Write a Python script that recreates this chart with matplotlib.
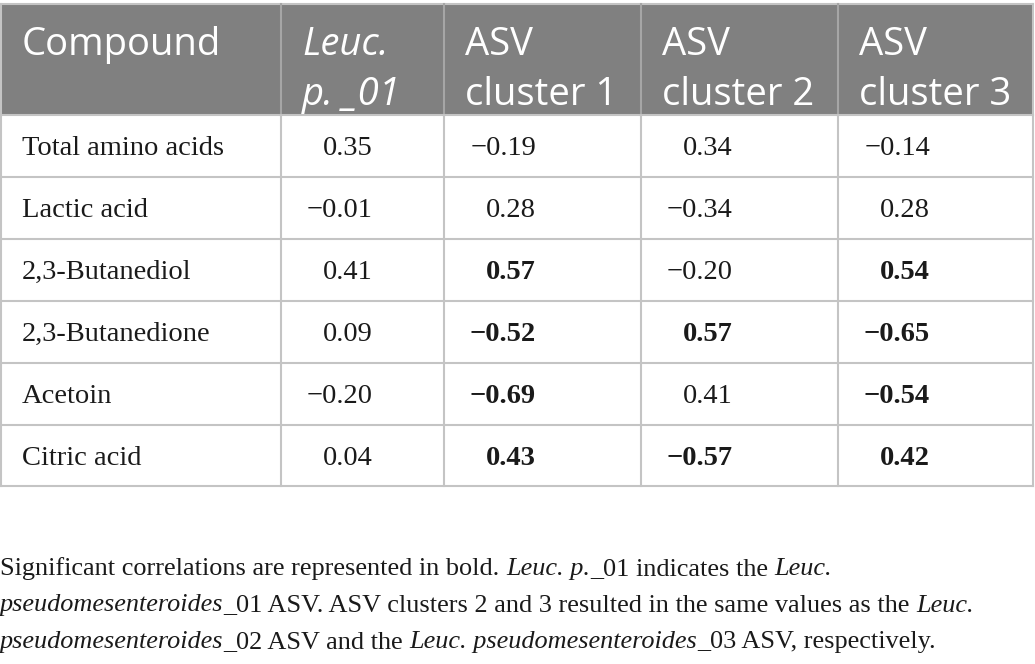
import matplotlib.pyplot as plt
from matplotlib.patches import Rectangle

compounds = ["Total amino acids", "Lactic acid", "2,3-Butanediol",
             "2,3-Butanedione", "Acetoin", "Citric acid"]
values = [
    [0.35, -0.19, 0.34, -0.14],
    [-0.01, 0.28, -0.34, 0.28],
    [0.41, 0.57, -0.20, 0.54],
    [0.09, -0.52, 0.57, -0.65],
    [-0.20, -0.69, 0.41, -0.54],
    [0.04, 0.43, -0.57, 0.42],
]
significant = [
    [False, False, False, False],
    [False, False, False, False],
    [False, True, False, True],
    [False, True, True, True],
    [False, True, False, True],
    [False, True, True, True],
]
# header: (line1, line2, italic)
headers = [("Compound", "", False), ("Leuc.", "p. _01", True),
           ("ASV", "cluster 1", False), ("ASV", "cluster 2", False),
           ("ASV", "cluster 3", False)]
footnote = [
    [("Significant correlations are represented in bold. ", "normal"),
     ("Leuc. p.", "italic"), ("_01 indicates the ", "normal"), ("Leuc.", "italic")],
    [("pseudomesenteroides", "italic"),
     ("_01 ASV. ASV clusters 2 and 3 resulted in the same values as the ", "normal"),
     ("Leuc.", "italic")],
    [("pseudomesenteroides", "italic"), ("_02 ASV and the ", "normal"),
     ("Leuc. pseudomesenteroides", "italic"), ("_03 ASV, respectively.", "normal")],
]

W, H = 1035, 664
fig = plt.figure(figsize=(W / 100, H / 100), dpi=100)
ax = fig.add_axes([0, 0, 1, 1])
ax.set_xlim(0, W)
ax.set_ylim(H, 0)
ax.axis("off")

col_x = [1, 281, 444, 641, 838, 1033]
top, head_bot = 4, 115
row_h = 61.9
row_y = [head_bot + i * row_h for i in range(len(compounds) + 1)]
grid = "#c4c4c4"
serif = "Liberation Serif"
fs = 20.5
ink = "#1a1a1a"

ax.add_patch(Rectangle((col_x[0], top), col_x[-1] - col_x[0], head_bot - top,
                       facecolor="#808080", edgecolor="none"))
ax.plot([col_x[0], col_x[-1]], [top, top], color=grid, lw=1.5)
for y in row_y:
    ax.plot([col_x[0], col_x[-1]], [y, y], color=grid, lw=1.5)
for x in col_x:
    edge = x in (col_x[0], col_x[-1])
    ax.plot([x, x], [top, head_bot], color=grid if edge else "#a6a6a6", lw=1.5, zorder=3)
    ax.plot([x, x], [head_bot, row_y[-1]], color=grid, lw=1.5, zorder=3)

for j, (l1, l2, it) in enumerate(headers):
    style = "italic" if it else "normal"
    ax.text(col_x[j] + 21, 55, l1, color="white", fontsize=27.5, family="Open Sans",
            style=style, va="baseline", ha="left")
    if l2:
        ax.text(col_x[j] + 21, 105, l2, color="white", fontsize=27.5, family="Open Sans",
                style=style, va="baseline", ha="left")

for i, name in enumerate(compounds):
    base = (row_y[i] + row_y[i + 1]) / 2 + 9.5
    ax.text(col_x[0] + 21, base, name, fontsize=fs, family=serif, va="baseline", color=ink)
    for j, v in enumerate(values[i]):
        s = f"{v:.2f}".replace("-", "\u2212")
        ax.text(col_x[j + 1] + 92, base, s, fontsize=fs, family=serif, ha="right",
                va="baseline", color=ink,
                fontweight="bold" if significant[i][j] else "normal")

fig.canvas.draw()
renderer = fig.canvas.get_renderer()
for k, line in enumerate(footnote):
    x = 0
    y = 575 + k * 36.5
    for txt, st in line:
        t = ax.text(x, y, txt, fontsize=18.9, family=serif, style=st, va="baseline",
                    ha="left", color=ink)
        x += t.get_window_extent(renderer).width

fig.savefig("out.png", dpi=100)
